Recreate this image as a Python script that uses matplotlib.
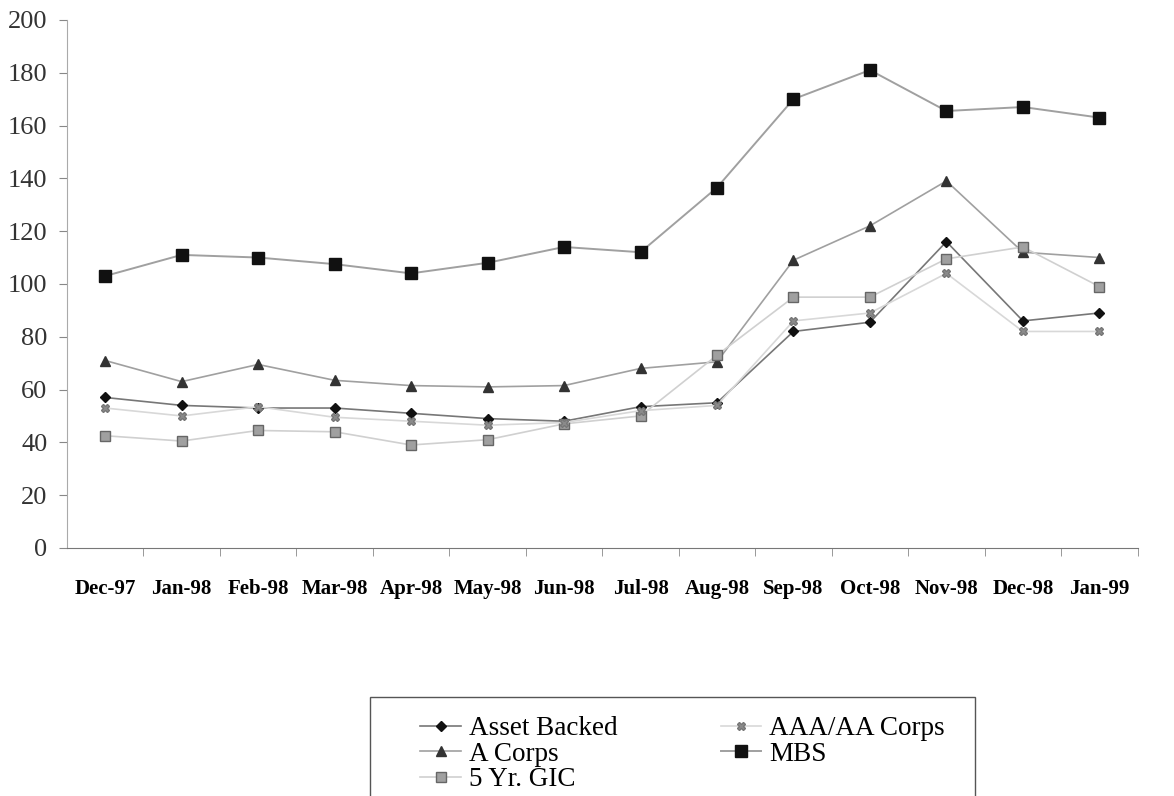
import matplotlib.pyplot as plt
from matplotlib.patches import Rectangle
import numpy as np

plt.rcParams['font.family'] = ['Liberation Serif', 'DejaVu Serif']

# categories and series
months = ['Dec-97', 'Jan-98', 'Feb-98', 'Mar-98', 'Apr-98', 'May-98', 'Jun-98',
          'Jul-98', 'Aug-98', 'Sep-98', 'Oct-98', 'Nov-98', 'Dec-98', 'Jan-99']
asset_backed = [57, 54, 53, 53, 51, 49, 48, 53.5, 55, 82, 85.5, 116, 86, 89]
aaa_aa_corps = [53, 50, 53.5, 49.5, 48, 46.5, 47.5, 52, 54, 86, 89, 104, 82, 82]
a_corps = [71, 63, 69.5, 63.5, 61.5, 61, 61.5, 68, 70.5, 109, 122, 139, 112, 110]
mbs = [103, 111, 110, 107.5, 104, 108, 114, 112, 136.5, 170, 181, 165.5, 167, 163]
gic_5yr = [42.5, 40.5, 44.5, 44, 39, 41, 47, 50, 73, 95, 95, 109.5, 114, 99]

x = np.arange(len(months))

fig = plt.figure(figsize=(11.74, 7.96), dpi=100)
ax = fig.add_axes([0.057, 0.3116, 0.912, 0.6634])

ax.plot(x, asset_backed, color='#777777', lw=1.2, marker='D', ms=5,
        mfc='#111111', mec='#111111', label='Asset Backed')
ax.plot(x, a_corps, color='#a0a0a0', lw=1.2, marker='^', ms=7,
        mfc='#333333', mec='#333333', label='A Corps')
ax.plot(x, gic_5yr, color='#d0d0d0', lw=1.2, marker='s', ms=7,
        mfc='#a0a0a0', mec='#666666', label='5 Yr. GIC')
ax.plot(x, aaa_aa_corps, color='#d8d8d8', lw=1.2, marker='X', ms=6,
        mfc='#8a8a8a', mec='#777777', label='AAA/AA Corps')
ax.plot(x, mbs, color='#a0a0a0', lw=1.4, marker='s', ms=9,
        mfc='#111111', mec='#111111', label='MBS')

ax.set_xlim(-0.5, len(months) - 0.5)
ax.set_ylim(0, 200)
ax.set_yticks(range(0, 201, 20))
ax.set_xticks(x)
ax.set_xticklabels(months, fontsize=15, fontweight='bold')
ax.set_xticks(np.arange(len(months)) + 0.5, minor=True)
ax.tick_params(axis='x', which='major', length=0, pad=22)
ax.tick_params(axis='x', which='minor', length=6, color='#888888', direction='out')
ax.tick_params(axis='y', labelsize=19, length=6, color='#888888', pad=8)
for lab in ax.get_yticklabels():
    lab.set_color('#333333')

for side in ['top', 'right']:
    ax.spines[side].set_visible(False)
ax.spines['left'].set_color('#aaaaaa')
ax.spines['bottom'].set_color('#777777')

# legend box, cut off by the bottom edge as in the scan
fig.patches.append(Rectangle((370 / 1174, -0.05), 605 / 1174, 0.05 + 99 / 796,
                             transform=fig.transFigure, fill=False,
                             edgecolor='#555555', lw=1.0))
handles, labels = ax.get_legend_handles_labels()
leg = fig.legend(handles, labels, loc='upper left', bbox_to_anchor=(0.358, 0.100),
                 ncol=2, fontsize=19.5, frameon=False,
                 handlelength=1.5, handletextpad=0.3, columnspacing=3.8,
                 labelspacing=0.02, borderpad=0, borderaxespad=0)

fig.savefig('out.png', dpi=100)
